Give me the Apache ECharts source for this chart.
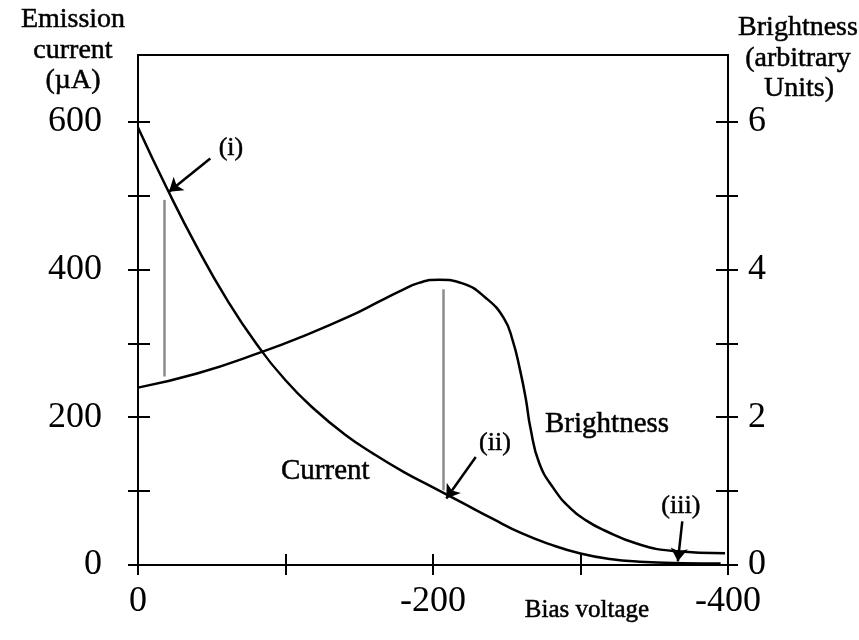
<!DOCTYPE html>
<html>
<head>
<meta charset="utf-8">
<script src="https://cdn.jsdelivr.net/npm/echarts@6/dist/echarts.min.js"></script>
<style>
  html, body { margin: 0; padding: 0; background: #fff; }
  #chart { width: 859px; height: 640px; }
</style>
</head>
<body>
<div id="chart"></div>
<script>
// bias voltage (V) and emission current (uA)
const currentVoltage = [0, -20, -40, -60, -80, -100, -120, -140, -160, -180, -200, -220, -240, -260, -280, -300, -320, -340, -370, -395];
const currentValues = [592, 508, 430, 360, 300, 250, 210, 177, 150, 126, 105, 84, 63, 43, 27.5, 15.5, 8, 4.5, 2.5, 2];

// bias voltage (V) and brightness (arbitrary units)
const brightnessVoltage = [0, -40, -85, -110, -144, -164, -178, -191, -204, -220, -236, -248, -254, -259, -263, -266, -272, -282, -293, -304, -316, -338, -363, -398];
const brightnessValues = [2.40, 2.59, 2.89, 3.08, 3.37, 3.57, 3.71, 3.82, 3.86, 3.81, 3.61, 3.34, 3.04, 2.64, 2.24, 1.86, 1.38, 1.03, 0.77, 0.60, 0.47, 0.29, 0.19, 0.16];

const xTicks = [0, -100, -200, -300, -400];
const xLabels = [0, -200, -400];
const currentTicks = [0, 100, 200, 300, 400, 500, 600];
const currentLabels = [0, 200, 400, 600];
const brightnessTicks = [0, 1, 2, 3, 4, 5, 6];
const brightnessLabels = [0, 2, 4, 6];

// grey vertical markers (voltage, current from, current to)
const markerVoltage = [-18, -207];
const markerFrom = [255, 101];
const markerTo = [494, 373];

// pointers (i) (ii) (iii): tail -> head in (voltage, current)
const pointerNames = ["(i)", "(ii)", "(iii)"];
const pointerTail = [[-49, 550], [-229, 146], [-369, 59]];
const pointerHead = [[-21, 505], [-209, 90], [-366, 5]];
const pointerLabelAt = [[-63, 564], [-242, 165], [-368, 80]];

// curve names written on the plot
const curveNames = ["Current", "Brightness"];
const curveLabelAt = [[-127, 127], [-318, 190]];

const serif = "'Liberation Serif', 'Times New Roman', serif";

const chart = echarts.init(document.getElementById("chart"));

function xAxisOf(inside, labels) {
  return {
    type: "value",
    position: "bottom",
    inverse: true,
    min: -400,
    max: 0,
    axisLine: { show: false },
    splitLine: { show: false },
    axisTick: {
      show: true,
      inside: inside,
      length: inside ? 11 : 10,
      customValues: xTicks,
      lineStyle: { color: "#000", width: 2 }
    },
    axisLabel: {
      show: labels,
      customValues: xLabels,
      margin: 19,
      color: "#000",
      fontFamily: serif,
      fontSize: 36
    }
  };
}

function yAxisOf(pos, max, ticks, labelValues, inside, labels, margin) {
  return {
    type: "value",
    position: pos,
    min: 0,
    max: max,
    axisLine: { show: false },
    splitLine: { show: false },
    axisTick: {
      show: true,
      inside: inside,
      length: inside ? 12 : 10,
      customValues: ticks,
      lineStyle: { color: "#000", width: 2 }
    },
    axisLabel: {
      show: labels,
      customValues: labelValues,
      margin: margin,
      color: "#000",
      fontFamily: serif,
      fontSize: 36
    }
  };
}

const markerLines = markerVoltage.map((v, i) => [
  { coord: [v, markerFrom[i]] },
  { coord: [v, markerTo[i]] }
]);

const pointerLines = pointerTail.map((t, i) => [
  { coord: t },
  { coord: pointerHead[i] }
]);

function titleText(text, x, y, size) {
  return {
    type: "text",
    style: {
      text: text,
      x: x,
      y: y,
      align: "center",
      verticalAlign: "middle",
      font: size + "px " + serif,
      fill: "#000",
      stroke: "#000",
      lineWidth: 0.5
    }
  };
}

chart.setOption({
  animation: false,
  grid: {
    left: 138,
    right: 131,
    top: 55,
    bottom: 75,
    show: true,
    borderColor: "#000",
    borderWidth: 2,
    backgroundColor: "transparent"
  },
  xAxis: [xAxisOf(false, true), xAxisOf(true, false)],
  yAxis: [
    yAxisOf("left", 690, currentTicks, currentLabels, false, true, 36),
    yAxisOf("left", 690, currentTicks, currentLabels, true, false, 36),
    yAxisOf("right", 6.9, brightnessTicks, brightnessLabels, false, true, 20),
    yAxisOf("right", 6.9, brightnessTicks, brightnessLabels, true, false, 20)
  ],
  series: [
    {
      name: "Current",
      type: "line",
      xAxisIndex: 0,
      yAxisIndex: 0,
      data: currentVoltage.map((v, i) => [v, currentValues[i]]),
      smooth: 0.5,
      symbol: "none",
      lineStyle: { color: "#000", width: 2.5 },
      markLine: {
        silent: true,
        symbol: ["none", "none"],
        label: { show: false },
        lineStyle: { color: "#8c8c8c", width: 2.5, type: "solid" },
        data: markerLines
      },
      z: 3
    },
    {
      name: "Brightness",
      type: "line",
      xAxisIndex: 0,
      yAxisIndex: 2,
      data: brightnessVoltage.map((v, i) => [v, brightnessValues[i]]),
      smooth: 0.5,
      symbol: "none",
      lineStyle: { color: "#000", width: 2.5 },
      z: 3
    },
    {
      name: "pointers",
      type: "line",
      xAxisIndex: 0,
      yAxisIndex: 0,
      data: [],
      markLine: {
        silent: true,
        symbol: ["none", "arrow"],
        symbolSize: 13,
        label: { show: false },
        lineStyle: { color: "#000", width: 2.5, type: "solid" },
        data: pointerLines
      }
    }
  ]
});

// plot texts, placed through the axes' scales
const toPx = p => chart.convertToPixel({ xAxisIndex: 0, yAxisIndex: 0 }, p);
const plotTexts = pointerNames.map((n, i) => {
  const p = toPx(pointerLabelAt[i]);
  return titleText(n, p[0], p[1], 26);
}).concat(curveNames.map((n, i) => {
  const p = toPx(curveLabelAt[i]);
  return titleText(n, p[0], p[1], 29);
}));

chart.setOption({
  graphic: [
    titleText("Emission", 73, 20, 28),
    titleText("current", 73, 51, 28),
    titleText("(\u00b5A)", 73, 81, 28),
    titleText("Brightness", 798, 28, 28),
    titleText("(arbitrary", 798, 59, 28),
    titleText("Units)", 799, 89, 28),
    titleText("Bias voltage", 587, 610, 25)
  ].concat(plotTexts)
});
</script>
</body>
</html>
